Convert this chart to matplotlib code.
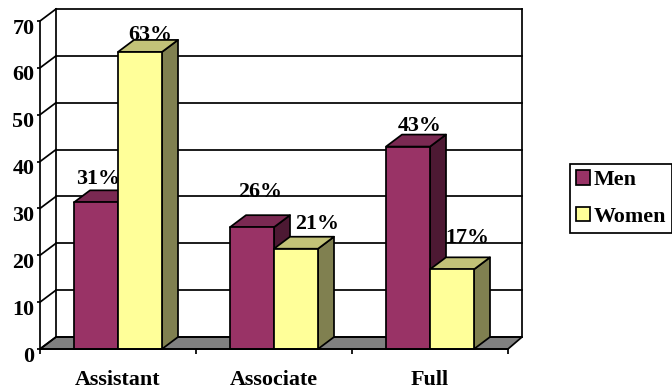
"""
  Faculty rank chart, 3D look bars built from flat polygons.
"""
import matplotlib
matplotlib.use('Agg')
import matplotlib.pyplot as plt
from matplotlib.patches import Patch, Polygon
from matplotlib.transforms import ScaledTranslation

categorias = ['Assistant', 'Associate', 'Full']
# Alturas (um pouco diferentes dos rotulos)
homens = [31.3, 26, 43.2]
mulheres = [63.4, 21.4, 17]
rotulos_homens = ['31%', '26%', '43%']
rotulos_mulheres = ['63%', '21%', '17%']
ticks_y = [0, 10, 20, 30, 40, 50, 60, 70]

# Escala: pixels por unidade
PX_X = 156
PX_Y = 328 / 70
# Profundidade do 3D
DX = 16 / PX_X
DY = 12 / PX_Y
LARGURA = 44 / PX_X
LW = 1.25

plt.rcParams['font.family'] = ['Liberation Serif', 'DejaVu Serif']
plt.rcParams['font.weight'] = 'bold'
plt.rcParams['font.size'] = 15.8

fig = plt.figure(figsize=(6.72, 3.89), dpi=100)
ax = fig.add_axes([0, 0, 1, 1])
ax.set_xlim(-40 / PX_X, 632 / PX_X)
ax.set_ylim(-40 / PX_Y, 349 / PX_Y)
ax.patch.set_alpha(0)

def barra(x, valor, frente, topo, lado):
  """
    Desenha uma barra: frente, topo e lateral.
  """
  x1 = x + LARGURA
  ax.add_patch(Polygon([(x1, 0), (x1 + DX, DY), (x1 + DX, valor + DY), (x1, valor)],
                       fc=lado, ec='k', lw=LW, zorder=5, joinstyle='round'))
  ax.add_patch(Polygon([(x, valor), (x + DX, valor + DY), (x1 + DX, valor + DY), (x1, valor)],
                       fc=topo, ec='k', lw=LW, zorder=5, joinstyle='round'))
  ax.add_patch(Polygon([(x, 0), (x1, 0), (x1, valor), (x, valor)],
                       fc=frente, ec='k', lw=LW, zorder=5, joinstyle='round'))

def rotulo(x, valor, texto, dx_px, dy_px):
  """
    Rotulo em cima da barra, deslocado em pixels (fica atras das barras e da grade).
  """
  ax.annotate(texto, (x, valor), xytext=(dx_px * 0.72, dy_px * 0.72), textcoords='offset points',
              ha='center', va='baseline', zorder=2, annotation_clip=False)

# Parede direita termina um pouco antes
direita = len(categorias) + 14 / PX_X
topo_y = ticks_y[-1]

# Chao
ax.add_patch(Polygon([(0, 0), (DX, DY), (direita, DY), (len(categorias), 0)],
                     fc='#808080', ec='k', lw=LW, zorder=1))

# Grade, parede de fundo e diagonais
for v in ticks_y:
  ax.plot([DX, direita], [v + DY, v + DY], c='k', lw=LW, zorder=3, solid_capstyle='projecting')
  ax.plot([0, DX], [v, v + DY], c='k', lw=LW, zorder=3)
ax.plot([DX, DX], [DY, topo_y + DY], c='k', lw=LW, zorder=3)
ax.plot([direita, direita], [DY, topo_y + DY], c='k', lw=LW, zorder=3)

# Barras
for i in range(len(categorias)):
  centro = i + 0.5
  barra(centro - LARGURA, homens[i], '#993366', '#7a2952', '#4d1933')
  barra(centro, mulheres[i], '#ffff99', '#c2c278', '#808050')

# Rotulos: os deslocamentos variam no original
rotulo(0.5 - LARGURA / 2, homens[0], rotulos_homens[0], 2, 18)
rotulo(1.5 - LARGURA / 2, homens[1], rotulos_homens[1], 8, 30)
rotulo(2.5 - LARGURA / 2, homens[2], rotulos_homens[2], 12, 16)
rotulo(0.5 + LARGURA / 2, mulheres[0], rotulos_mulheres[0], 10, 12)
rotulo(1.5 + LARGURA / 2, mulheres[1], rotulos_mulheres[1], 21, 20)
rotulo(2.5 + LARGURA / 2, mulheres[2], rotulos_mulheres[2], 15, 26)

# Eixos
for lado in ['top', 'right']:
  ax.spines[lado].set_visible(False)
ax.spines['left'].set_position(('data', 0))
ax.spines['bottom'].set_position(('data', 0))
ax.spines['left'].set_bounds(0, topo_y)
ax.spines['bottom'].set_bounds(0, len(categorias))
for lado in ['left', 'bottom']:
  ax.spines[lado].set_linewidth(LW)
  ax.spines[lado].set_zorder(6)

ax.set_yticks(ticks_y)
ax.set_yticklabels([str(v) for v in ticks_y])
ax.tick_params(axis='y', length=2.5, width=LW, pad=1.5)
ax.set_xticks(range(len(categorias) + 1))
ax.set_xticklabels([])
ax.set_xticks([i + 0.5 for i in range(len(categorias))], minor=True)
ax.set_xticklabels(categorias, minor=True)
ax.tick_params(axis='x', which='major', length=3.5, width=LW)
ax.tick_params(axis='x', which='minor', length=0, pad=15)

# Numeros do eixo y ficam um pouco abaixo do tick
desce = ScaledTranslation(0, -5 / 100, fig.dpi_scale_trans)
for t in ax.get_yticklabels():
  t.set_transform(t.get_transform() + desce)

# Legenda
itens = [Patch(fc='#993366', ec='k', lw=LW, label='Men'),
         Patch(fc='#ffff99', ec='k', lw=LW, label='Women')]
leg = ax.legend(handles=itens, loc='upper left', bbox_to_anchor=(570 / 672, 1 - 164 / 389),
                borderaxespad=0, fancybox=False, edgecolor='k', framealpha=1,
                handlelength=0.62, handleheight=0.62, handletextpad=0.18,
                labelspacing=0.75, borderpad=0.28)
leg.get_frame().set_linewidth(LW)

fig.savefig('out.png', dpi=100)
